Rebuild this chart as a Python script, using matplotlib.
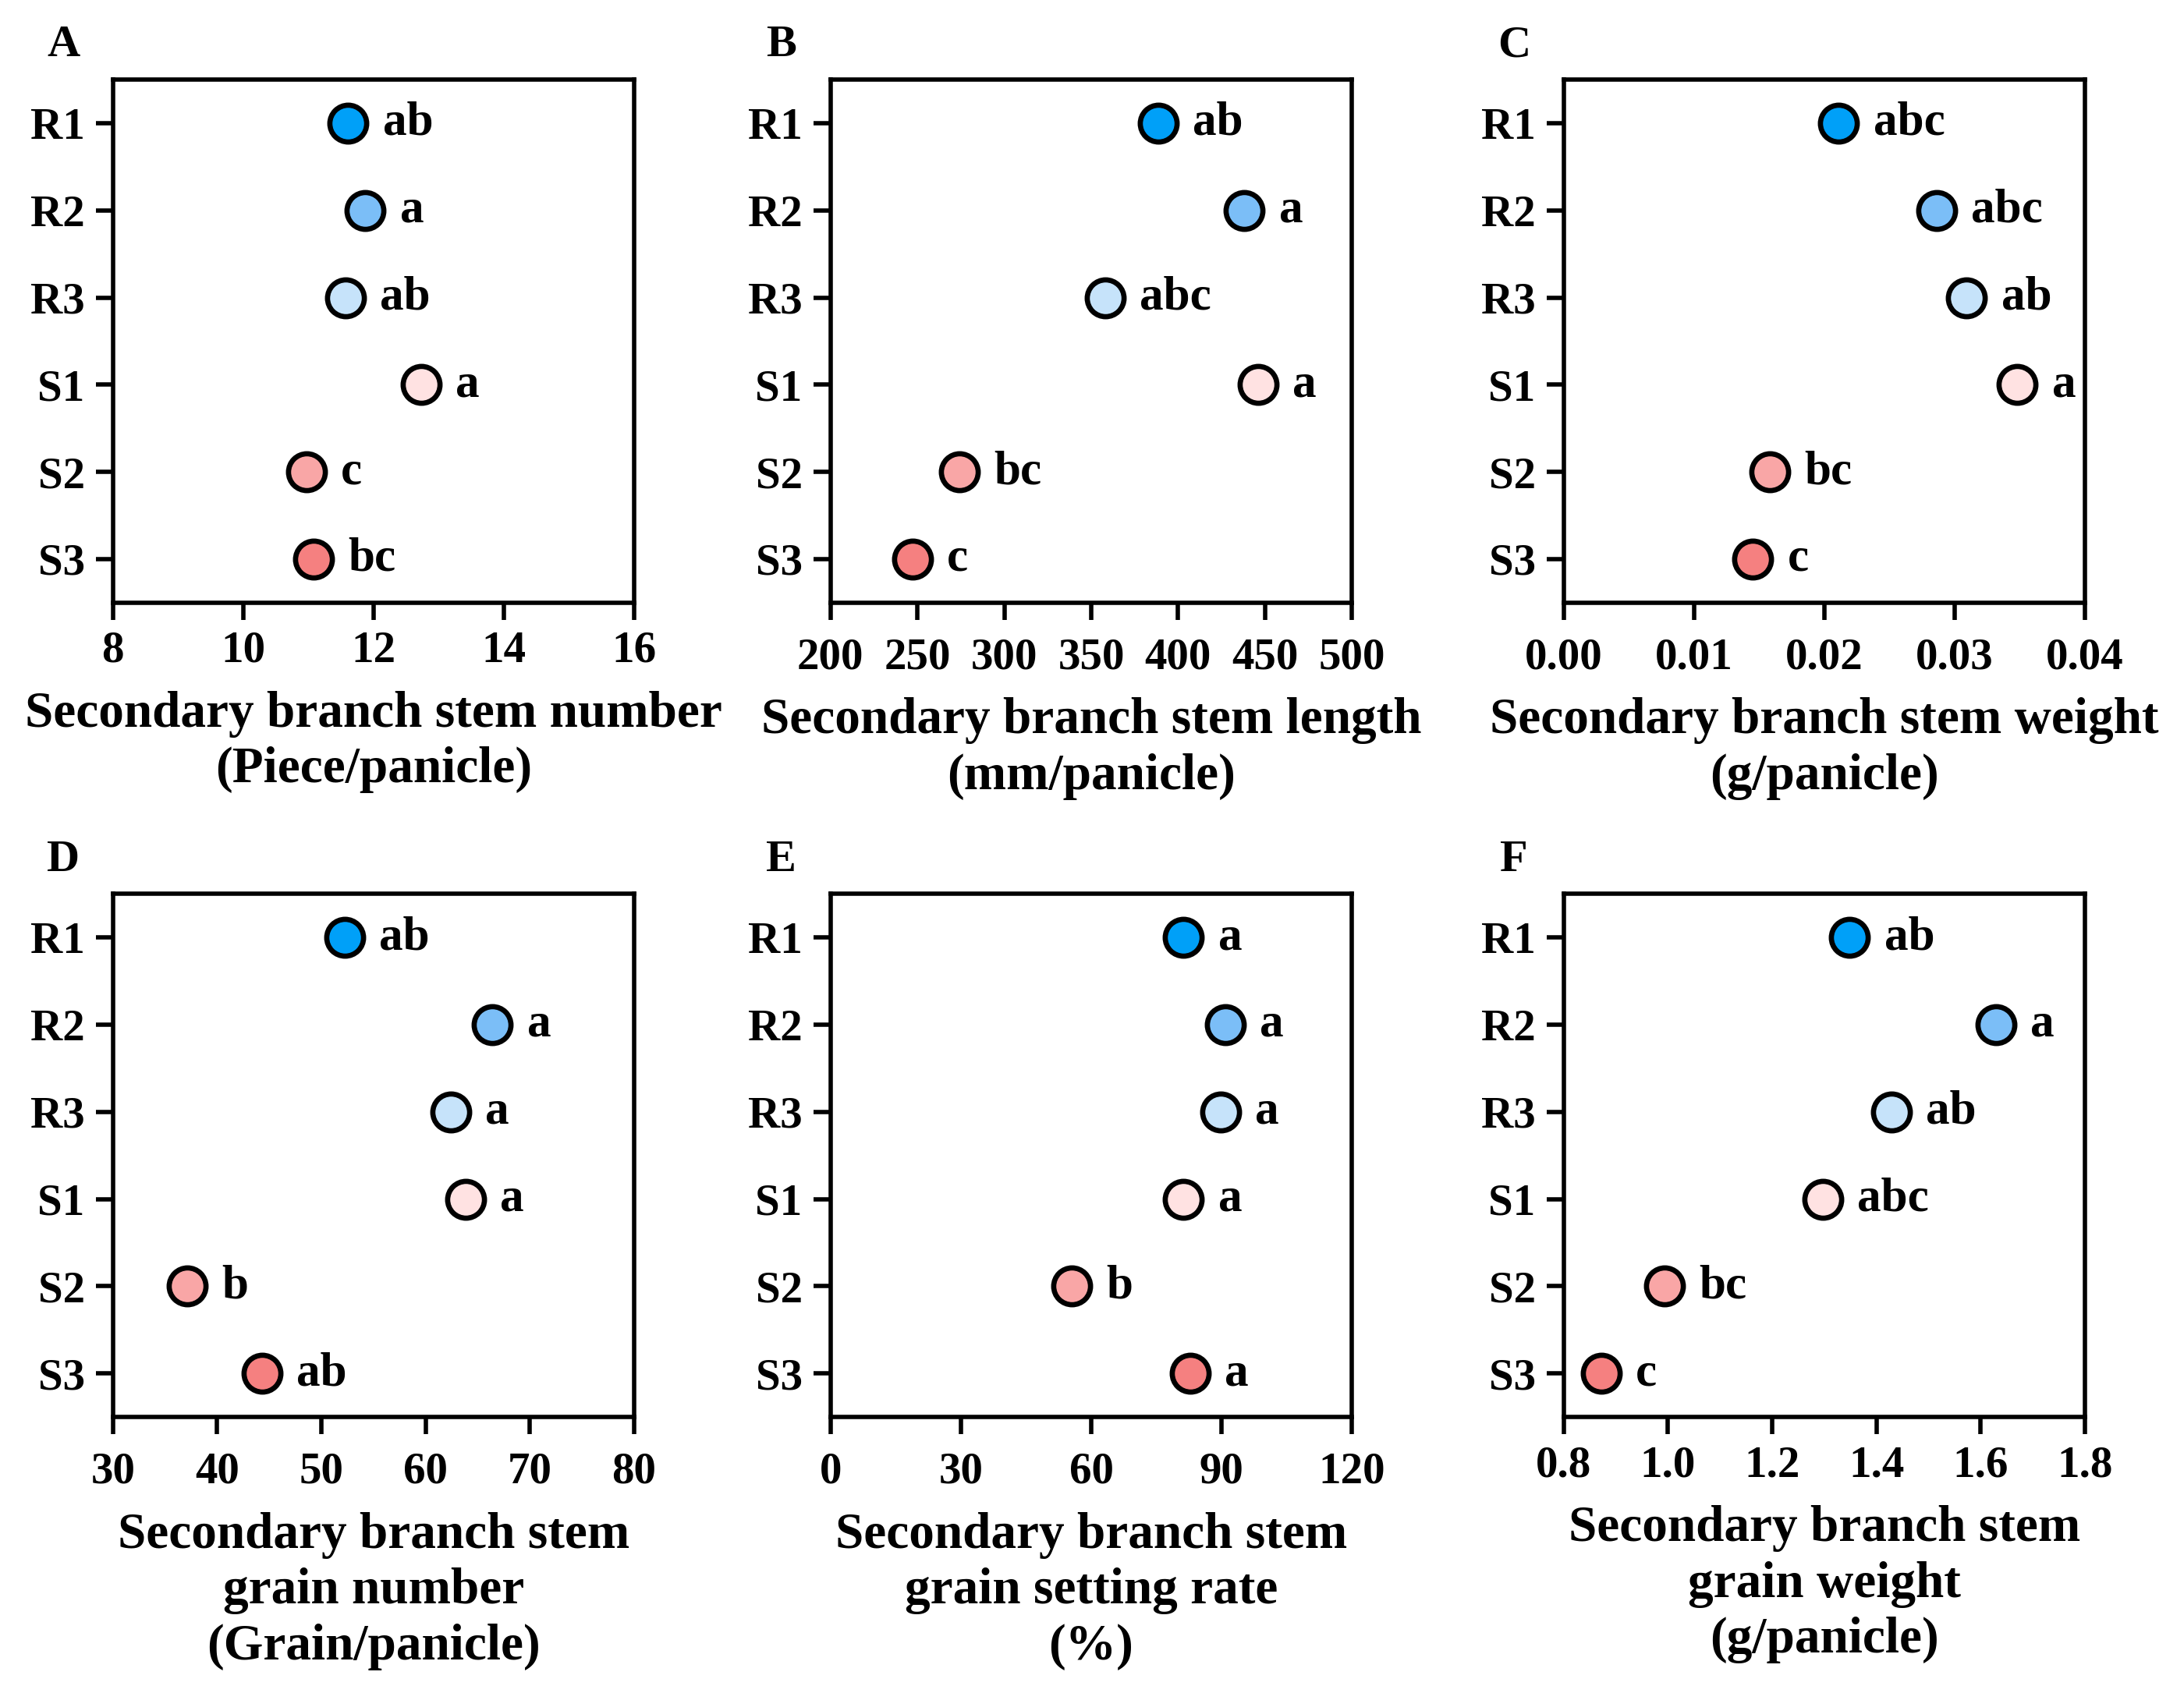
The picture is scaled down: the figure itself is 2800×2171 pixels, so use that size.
import matplotlib
matplotlib.use("Agg")
import matplotlib.pyplot as plt

plt.rcParams['font.family'] = ['Liberation Serif', 'DejaVu Serif']
plt.rcParams['font.weight'] = 'bold'

groups = ['R1', 'R2', 'R3', 'S1', 'S2', 'S3']
colors = ['#00A0F8', '#7BBEF7', '#C6E3FA', '#FFE2E2', '#F9A6A6', '#F58080']

stem_number = [11.61, 11.87, 11.57, 12.73, 10.97, 11.08]
stem_number_sig = ['ab', 'a', 'ab', 'a', 'c', 'bc']

stem_length = [388.5, 438, 358, 446, 274, 247]
stem_length_sig = ['ab', 'a', 'abc', 'a', 'bc', 'c']

stem_weight = [0.0211, 0.0286, 0.0309, 0.0348, 0.0158, 0.0145]
stem_weight_sig = ['abc', 'abc', 'ab', 'a', 'bc', 'c']

grain_number = [52.2, 66.4, 62.4, 63.8, 37.1, 44.3]
grain_number_sig = ['ab', 'a', 'a', 'a', 'b', 'ab']

setting_rate = [81.2, 90.8, 89.8, 81.2, 55.5, 82.8]
setting_rate_sig = ['a', 'a', 'a', 'a', 'b', 'a']

grain_weight = [1.348, 1.629, 1.428, 1.297, 0.993, 0.872]
grain_weight_sig = ['ab', 'a', 'ab', 'abc', 'bc', 'c']

panels = [
    ('A', stem_number, stem_number_sig, [8, 10, 12, 14, 16], '{:.0f}',
     'Secondary branch stem number\n(Piece/panicle)'),
    ('B', stem_length, stem_length_sig, [200, 250, 300, 350, 400, 450, 500], '{:.0f}',
     'Secondary branch stem length\n(mm/panicle)'),
    ('C', stem_weight, stem_weight_sig, [0.00, 0.01, 0.02, 0.03, 0.04], '{:.2f}',
     'Secondary branch stem weight\n(g/panicle)'),
    ('D', grain_number, grain_number_sig, [30, 40, 50, 60, 70, 80], '{:.0f}',
     'Secondary branch stem\ngrain number\n(Grain/panicle)'),
    ('E', setting_rate, setting_rate_sig, [0, 30, 60, 90, 120], '{:.0f}',
     'Secondary branch stem\ngrain setting rate\n(%)'),
    ('F', grain_weight, grain_weight_sig, [0.8, 1.0, 1.2, 1.4, 1.6, 1.8], '{:.1f}',
     'Secondary branch stem\ngrain weight\n(g/panicle)'),
]

fig = plt.figure(figsize=(14, 10.855), dpi=200)
lefts = [0.0517, 0.3803, 0.716]
bottoms = [0.644, 0.163]

for i, (tag, vals, sig, xt, fmt, xlab) in enumerate(panels):
    ax = fig.add_axes([lefts[i % 3], bottoms[i // 3], 0.2387, 0.309])
    ypos = list(range(len(groups)))
    for y, v, c, s in zip(ypos, vals, colors, sig):
        ax.plot(v, y, 'o', ms=17, mfc=c, mec='black', mew=2.4, zorder=3)
        ax.annotate(s, (v, y), xytext=(16, 0), textcoords='offset points',
                    ha='left', va='center', fontsize=22, fontweight='bold')
    ax.set_xlim(xt[0], xt[-1])
    ax.set_ylim(len(groups) - 0.5, -0.5)
    ax.set_yticks(ypos)
    ax.set_yticklabels(groups)
    ax.set_xticks(xt)
    ax.set_xticklabels([fmt.format(t) for t in xt])
    ax.tick_params(direction='out', length=8, width=2, labelsize=20.5, pad=5)
    ax.tick_params(axis='x', pad=5 if (i == 0 or i == 5) else 8)
    for sp in ax.spines.values():
        sp.set_linewidth(2)
    ax.set_xlabel(xlab, fontsize=23.5, fontweight='bold', labelpad=9, linespacing=1.25)
    ax.text(-0.095, 1.065, tag, transform=ax.transAxes, ha='center', va='center',
            fontsize=21, fontweight='bold')

fig.savefig('out.png', dpi=200)
